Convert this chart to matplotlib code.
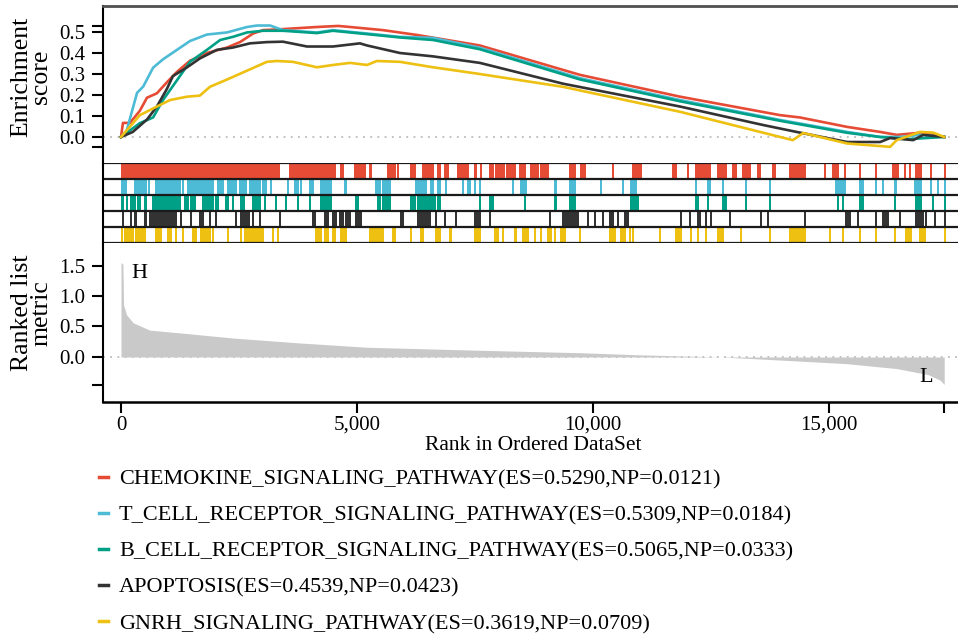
import matplotlib
matplotlib.use('Agg')
import matplotlib.pyplot as plt
from matplotlib.lines import Line2D
from matplotlib.ticker import FuncFormatter

plt.rcParams['font.family'] = ['Liberation Serif', 'DejaVu Serif']

# gene sets (label, colour)
labels = ['CHEMOKINE_SIGNALING_PATHWAY(ES=0.5290,NP=0.0121)',
          'T_CELL_RECEPTOR_SIGNALING_PATHWAY(ES=0.5309,NP=0.0184)',
          'B_CELL_RECEPTOR_SIGNALING_PATHWAY(ES=0.5065,NP=0.0333)',
          'APOPTOSIS(ES=0.4539,NP=0.0423)',
          'GNRH_SIGNALING_PATHWAY(ES=0.3619,NP=0.0709)']
colors = ['#E64B35', '#4DBBD5', '#00A087', '#333333', '#EDC011']

n_genes = 17436

# running enrichment score (rank, ES)
chemokine_rank = [0, 42, 190, 400, 550, 760, 970, 1185, 1460, 1820, 2245, 2520, 2800, 3010,
                  3430, 4150, 4600, 4850, 5550, 6270, 7600, 9720, 11840, 13960, 14380, 15380,
                  16080, 16430, 16920, 17436]
chemokine_es = [0, 0.067, 0.067, 0.125, 0.187, 0.208, 0.26, 0.31, 0.363, 0.40, 0.426, 0.452,
                0.493, 0.509, 0.514, 0.524, 0.529, 0.524, 0.509, 0.486, 0.436, 0.296, 0.192,
                0.104, 0.093, 0.048, 0.024, 0.01, 0.02, 0.0]

tcell_rank = [0, 120, 340, 470, 680, 890, 1185, 1460, 1820, 2245, 2670, 2880, 3160, 3430, 4150,
              4490, 5210, 5910, 6610, 7600, 9720, 11840, 13960, 15380, 16080, 16500, 16920, 17436]
tcell_es = [0, 0.03, 0.21, 0.24, 0.33, 0.37, 0.415, 0.457, 0.488, 0.498, 0.524, 0.531, 0.531,
            0.509, 0.498, 0.509, 0.493, 0.477, 0.472, 0.425, 0.28, 0.176, 0.081, 0.024, 0.0,
            0.0, 0.01, 0.0]

bcell_rank = [0, 400, 680, 890, 1185, 1460, 1820, 2100, 2370, 2670, 3010, 3430, 4150, 4490,
              5210, 5910, 6610, 7600, 9720, 11840, 13960, 15380, 16080, 16700, 17436]
bcell_es = [0, 0.066, 0.093, 0.176, 0.27, 0.358, 0.415, 0.462, 0.477, 0.498, 0.506, 0.506,
            0.495, 0.506, 0.49, 0.474, 0.462, 0.418, 0.274, 0.17, 0.077, 0.02, 0.0, -0.01, 0.0]

apoptosis_rank = [0, 250, 550, 760, 970, 1100, 1400, 1670, 2030, 2370, 2730, 3090, 3430, 3940,
                  4490, 5060, 5210, 5910, 6610, 7600, 9360, 11840, 13600, 14310, 15380, 16080,
                  16290, 16780, 16990, 17436]
apoptosis_es = [0, 0.024, 0.083, 0.145, 0.228, 0.29, 0.332, 0.374, 0.415, 0.426, 0.446, 0.452,
                0.454, 0.431, 0.431, 0.446, 0.436, 0.40, 0.384, 0.353, 0.254, 0.145, 0.057,
                0.024, -0.024, -0.024, -0.005, -0.015, 0.01, 0.0]

gnrh_rank = [0, 400, 760, 1040, 1400, 1670, 1885, 2310, 2730, 3090, 3300, 3640, 4150, 4490,
             4850, 5210, 5420, 5910, 6610, 7600, 9360, 11840, 13960, 14230, 14450, 15380,
             16290, 16430, 16920, 17200, 17436]
gnrh_es = [0, 0.104, 0.145, 0.176, 0.192, 0.197, 0.239, 0.28, 0.322, 0.358, 0.362, 0.358,
           0.332, 0.343, 0.353, 0.343, 0.362, 0.358, 0.332, 0.30, 0.239, 0.12, 0.0, -0.015,
           0.019, -0.031, -0.047, -0.015, 0.024, 0.021, 0.0]

# gene set members in the ranked list, (first rank, last rank) of each run of hits
chemokine_hits = [(0, 85), (127, 191), (212, 530), (551, 657), (678, 880), (910, 1280),
                  (1310, 1737), (1758, 1800), (1830, 1870), (1906, 1949), (1970, 2478),
                  (2520, 2605), (2648, 3029), (3050, 3156), (3177, 3325), (3558, 3939),
                  (3982, 4088), (4109, 4236), (4257, 4405), (4427, 4511), (4638, 4681),
                  (4935, 5147), (5253, 5274), (5634, 5782), (5846, 5846), (6121, 6206),
                  (6375, 6481), (6523, 6587), (6693, 6735), (6841, 6904), (7116, 7328),
                  (7477, 7498), (7604, 7604), (7794, 7858), (7921, 7964), (8000, 8100),
                  (8150, 8220), (8260, 8324), (8430, 8535), (8663, 8811), (8874, 9023),
                  (9489, 9595), (9722, 9806), (10399, 10399), (10823, 10992), (11670, 11733),
                  (11988, 11988), (12157, 12300), (12330, 12454), (12623, 12793), (12941, 13005),
                  (13153, 13301), (13470, 13513), (13788, 13830), (14148, 14466), (14890, 14890),
                  (15059, 15165), (15313, 15313), (15631, 15631), (15970, 15970), (16330, 16436),
                  (16584, 16584), (16690, 16690), (16817, 16923), (17135, 17135), (17431, 17431)]
tcell_hits = [(0, 85), (275, 508), (572, 572), (720, 1017), (1038, 1228), (1292, 1292),
              (1398, 1652), (1694, 1758), (1779, 1927), (2033, 2139), (2245, 2415), (2499, 2626),
              (2711, 2923), (2986, 3050), (3156, 3156), (3516, 3516), (3664, 3728), (3791, 3791),
              (3982, 4045), (4215, 4427), (4723, 4744), (5380, 5464), (5528, 5676), (6227, 6439),
              (6545, 6587), (6693, 6735), (6862, 6862), (7222, 7222), (7328, 7371), (7477, 7477),
              (7583, 7583), (8281, 8281), (8451, 8557), (9171, 9192), (9489, 9595), (10145, 10145),
              (10611, 10611), (10780, 10887), (12157, 12157), (12411, 12454), (12729, 12729),
              (13216, 13216), (13725, 13725), (15122, 15313), (15631, 15694), (15970, 15970),
              (16118, 16118), (16372, 16393), (16796, 16923), (17135, 17135), (17283, 17283),
              (17431, 17431)]
bcell_hits = [(0, 20), (106, 106), (191, 275), (339, 381), (487, 508), (657, 800), (830, 1017),
              (1038, 1228), (1334, 1398), (1461, 1546), (1716, 1927), (1991, 2033), (2203, 2245),
              (2351, 2351), (2520, 2584), (2775, 2923), (3029, 3029), (3262, 3262), (3474, 3474),
              (3728, 3728), (3982, 3982), (4215, 4427), (4956, 4998), (5422, 5464), (5528, 5676),
              (6121, 6206), (6269, 6375), (6418, 6481), (6523, 6629), (6693, 6735), (7583, 7583),
              (7794, 7858), (8535, 8535), (9171, 9192), (9489, 9595), (10780, 10929),
              (12157, 12200), (12411, 12411), (12729, 12793), (13216, 13216), (13725, 13725),
              (15165, 15165), (15271, 15271), (15631, 15694), (16372, 16372), (16817, 16923),
              (17177, 17177), (17431, 17431)]
apoptosis_hits = [(21, 21), (191, 191), (275, 297), (487, 508), (593, 760), (790, 1144),
                  (1250, 1250), (1461, 1461), (1652, 1716), (1864, 1864), (1991, 1991),
                  (2415, 2415), (2520, 2690), (2775, 2775), (2923, 2923), (3346, 3346),
                  (4045, 4088), (4300, 4363), (4469, 4533), (4617, 4681), (4744, 4829),
                  (4956, 5062), (5909, 5952), (6269, 6333), (6375, 6523), (6650, 6650),
                  (6841, 6841), (7074, 7074), (7477, 7583), (7794, 7794), (9065, 9065),
                  (9340, 9658), (9870, 9870), (10018, 10018), (10188, 10188), (10336, 10399),
                  (10505, 10505), (10654, 10717), (11839, 11839), (12030, 12030), (12200, 12242),
                  (12369, 12369), (12475, 12475), (12877, 12877), (13534, 13534), (13682, 13682),
                  (14466, 14466), (15334, 15419), (15588, 15588), (15970, 15970), (16118, 16224),
                  (16478, 16478), (16817, 16965), (17029, 17029), (17219, 17219), (17431, 17431)]
gnrh_hits = [(0, 0), (64, 85), (127, 169), (191, 233), (297, 487), (720, 826), (974, 1038),
             (1144, 1144), (1292, 1292), (1504, 1567), (1673, 1864), (1927, 1927), (2245, 2245),
             (2520, 2520), (2605, 2700), (2730, 2850), (2880, 2986), (3198, 3198), (3304, 3304),
             (4109, 4215), (4300, 4363), (4469, 4511), (4638, 4744), (5253, 5528), (5740, 5782),
             (6121, 6121), (6333, 6375), (6650, 6735), (6947, 6968), (7477, 7583), (7900, 7964),
             (8070, 8070), (8324, 8345), (8493, 8599), (8747, 8747), (8874, 8874), (9023, 9086),
             (9171, 9171), (9298, 9383), (9700, 9700), (10336, 10442), (10569, 10654),
             (10759, 10759), (10823, 10823), (11395, 11395), (11733, 11839), (12051, 12051),
             (12200, 12200), (12369, 12369), (12623, 12729), (13110, 13110), (13725, 13725),
             (14148, 14466), (14995, 14995), (15271, 15271), (15631, 15631), (15970, 15970),
             (16372, 16372), (16605, 16711), (16902, 17008), (17431, 17431)]

# ranked list metric (rank, value)
metric_rank = [0, 40, 55, 120, 260, 610, 1320, 2380, 3790, 5200, 7600, 9720, 11000, 12700,
               13960, 15380, 16430, 17100, 17350, 17436]
metric_val = [1.55, 1.52, 0.85, 0.69, 0.56, 0.44, 0.39, 0.31, 0.23, 0.16, 0.11, 0.07, 0.035,
              0.0, -0.05, -0.11, -0.19, -0.29, -0.38, -0.45]

es_ranks = [chemokine_rank, tcell_rank, bcell_rank, apoptosis_rank, gnrh_rank]
es_vals = [chemokine_es, tcell_es, bcell_es, apoptosis_es, gnrh_es]
hits = [chemokine_hits, tcell_hits, bcell_hits, apoptosis_hits, gnrh_hits]

W, H = 958, 638
fig = plt.figure(figsize=(W / 100, H / 100), dpi=100)


def box(left, top, right, bottom):
    return [left / W, 1 - bottom / H, (right - left) / W, (bottom - top) / H]


ax1 = fig.add_axes(box(103, 6, 958, 163))
ax2 = fig.add_axes(box(103, 163, 958, 243))
ax3 = fig.add_axes(box(103, 243, 958, 402))
xlim = (-381, 17728)
tick_kw = dict(direction='out', length=8, width=1.5, labelsize=15, pad=5)

# running enrichment score
for r, v, c in zip(es_ranks, es_vals, colors):
    ax1.plot(r, v, color=c, lw=1.9)
ax1.axhline(0, color='#BBBBBB', ls=(0, (1, 3)), lw=1.3, zorder=0)
ax1.set_xlim(xlim)
ax1.set_ylim(-0.124, 0.624)
ax1.set_xticks([])
ax1.set_yticks([0, 0.1, 0.2, 0.3, 0.4, 0.5])
ax1.set_yticklabels(['0.0', '0.1', '0.2', '0.3', '0.4', '0.5'])
ax1.set_yticks([-0.05, 0.53], minor=True)
ax1.tick_params(axis='y', which='both', **tick_kw)
for s in ['right', 'bottom']:
    ax1.spines[s].set_visible(False)
ax1.spines['top'].set_color('#505050')
ax1.spines['top'].set_linewidth(2)
ax1.spines['left'].set_linewidth(1.5)

# hit barcode, one row per gene set
for i, (h, c) in enumerate(zip(hits, colors)):
    ax2.broken_barh([(a, b - a + 40) for a, b in h], (i + 0.06, 0.88), color=c, lw=0)
for i in range(6):
    ax2.axhline(i, color='#1A1A1A', lw=1.6)
ax2.set_xlim(xlim)
ax2.set_ylim(5, 0)
ax2.set_xticks([])
ax2.set_yticks([])
for s in ['right', 'bottom', 'top']:
    ax2.spines[s].set_visible(False)
ax2.spines['left'].set_linewidth(1.5)

# ranked list metric
ax3.fill_between(metric_rank, 0, metric_val, color='#C9C9C9', lw=0)
ax3.axhline(0, color='#BBBBBB', ls=(0, (1, 3)), lw=1.3, zorder=0)
ax3.set_xlim(xlim)
ax3.set_ylim(-0.738, 1.869)
ax3.set_yticks([0, 0.5, 1.0, 1.5])
ax3.set_yticklabels(['0.0', '0.5', '1.0', '1.5'])
ax3.set_yticks([-0.46], minor=True)
ax3.set_xticks([0, 5000, 10000, 15000])
ax3.set_xticks([n_genes], minor=True)
ax3.xaxis.set_major_formatter(FuncFormatter(lambda v, p: f'{int(v):,}'))
ax3.tick_params(axis='both', which='both', **tick_kw)
ax3.tick_params(axis='x', pad=2)
for s in ['right', 'top']:
    ax3.spines[s].set_visible(False)
ax3.spines['left'].set_linewidth(1.5)
ax3.spines['bottom'].set_linewidth(1.8)
ax3.text(0.042, 0.81, 'H', transform=ax3.transAxes, fontsize=16, ha='center', va='center')
ax3.text(0.963, 0.157, 'L', transform=ax3.transAxes, fontsize=16, ha='center', va='center')

fig.text(31 / W, 1 - 77 / H, 'Enrichment\nscore', rotation=90, ha='center', va='center',
         fontsize=18.5, linespacing=0.85)
fig.text(32 / W, 1 - 313 / H, 'Ranked list\nmetric', rotation=90, ha='center', va='center',
         fontsize=18.5, linespacing=0.85)
fig.text(533 / W, 1 - 446 / H, 'Rank in Ordered DataSet', ha='center', va='center',
         fontsize=15.5)

handles = [Line2D([], [], color=c, lw=2.5) for c in colors]
fig.legend(handles, labels, loc='upper left', bbox_to_anchor=(99 / W, 1 - 469 / H),
           frameon=False, fontsize=16, handlelength=0.4, handletextpad=0.5,
           labelspacing=0.7, borderpad=0, borderaxespad=0)

fig.savefig('out.png', dpi=100)
